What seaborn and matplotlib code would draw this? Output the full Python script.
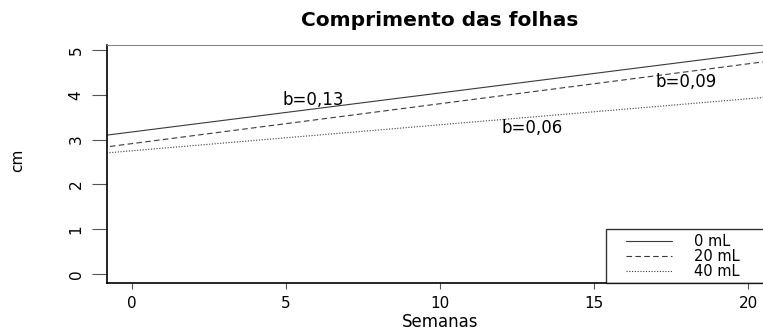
import numpy as np
import pandas as pd
import matplotlib
matplotlib.use("Agg")
import matplotlib.pyplot as plt
from matplotlib.lines import Line2D
from matplotlib.legend_handler import HandlerLine2D
import seaborn as sns

# Fitted regression lines for leaf length (cm) over weeks, per dose
doses = ["0 mL", "20 mL", "40 mL"]
intercepts = [3.17, 2.91, 2.75]
slopes = [0.087, 0.089, 0.058]
slope_labels = ["b=0,13", "b=0,09", "b=0,06"]
label_x = [5.9, 18.0, 13.0]
label_y = [3.88, 4.29, 3.26]

x_ticks = [0, 5, 10, 15, 20]
y_ticks = [0, 1, 2, 3, 4, 5]

sns.set_style("white")
plt.rcParams["font.family"] = ["DejaVu Sans"]
plt.rcParams["text.color"] = "black"
plt.rcParams["axes.labelcolor"] = "black"
plt.rcParams["xtick.labelcolor"] = "black"
plt.rcParams["ytick.labelcolor"] = "black"

weeks = np.array([-1.0, 22.0])
df = pd.concat(
    [pd.DataFrame({"Semanas": weeks, "cm": a + b * weeks, "dose": d})
     for d, a, b in zip(doses, intercepts, slopes)],
    ignore_index=True,
)

W, H = 763, 332
fig = plt.figure(figsize=(W / 100, H / 100), dpi=100)
ax = fig.add_axes([107 / W, 1 - 283 / H, (773 - 107) / W, (283 - 45) / H])

sns.lineplot(
    data=df, x="Semanas", y="cm", style="dose", style_order=doses,
    dashes={"0 mL": "", "20 mL": (5, 3), "40 mL": (1, 1.5)},
    color="#3a3a3a", linewidth=0.8, ax=ax, legend=True,
)

ax.set_xlim(-0.81, 20.81)
ax.set_ylim(-0.2, 5.11)
ax.set_xticks(x_ticks)
ax.set_yticks(y_ticks)
ax.tick_params(axis="both", direction="out", width=0.8, color="#555555",
               labelsize=11, left=True, bottom=True)
ax.tick_params(axis="x", length=4.5, pad=5)
ax.tick_params(axis="y", length=10.8, pad=6)
for lab in ax.get_yticklabels():
    lab.set_rotation(90)
    lab.set_va("center")

for side in ["left", "bottom"]:
    ax.spines[side].set_color("black")
    ax.spines[side].set_linewidth(1.2)
ax.spines["top"].set_color("#888888")
ax.spines["top"].set_linewidth(0.8)
ax.spines["right"].set_visible(False)

for txt, x, y in zip(slope_labels, label_x, label_y):
    ax.text(x, y, txt, ha="center", va="center", fontsize=12)

ax.set_title("Comprimento das folhas", fontsize=14.5, fontweight="bold", pad=13.5)
ax.set_xlabel("Semanas", fontsize=12, va="center")
ax.xaxis.set_label_coords(0.5, (283 - 322) / 238)
ax.set_ylabel("cm", fontsize=11, va="center")
ax.yaxis.set_label_coords((18 - 107) / 666, (283 - 160) / 238)


class OffsetLineHandler(HandlerLine2D):
    """Legend key drawn in the right-hand part of the handle box."""

    def get_xdata(self, legend, xdescent, ydescent, width, height, fontsize):
        xdata = np.array([0.26 * width, width]) - xdescent
        return xdata, xdata


handles, labels = ax.get_legend_handles_labels()
leg = ax.legend(handles, labels, loc="lower left", mode="expand",
                bbox_to_anchor=(606 / W, 1 - 283 / H, (773 - 606) / W, 0),
                bbox_transform=fig.transFigure,
                borderaxespad=0, frameon=True, fancybox=False, edgecolor="black",
                fontsize=10.5, handlelength=4.2, labelspacing=0.0,
                borderpad=0.3, handletextpad=1.5,
                handler_map={Line2D: OffsetLineHandler()})
leg.get_frame().set_linewidth(1.0)

fig.savefig("out.png", dpi=100)
